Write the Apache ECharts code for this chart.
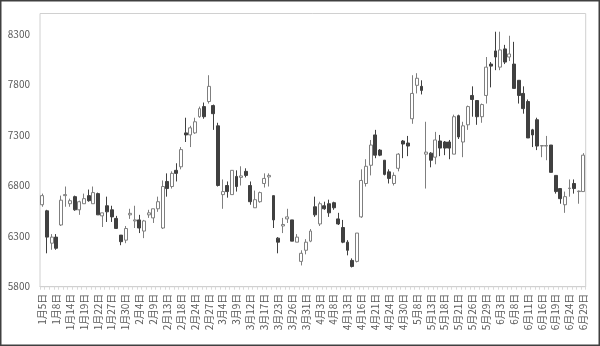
<!DOCTYPE html>
<html><head><meta charset="utf-8">
<script src="https://cdn.jsdelivr.net/npm/echarts@6/dist/echarts.min.js"></script>
<style>html,body{margin:0;padding:0;background:#fff}#c{width:600px;height:346px}</style>
</head><body><div id="c"></div>
<script>
const dates = ["1月5日","1月6日","1月7日","1月8日","1月9日","1月13日","1月14日","1月15日","1月16日","1月19日","1月20日","1月21日","1月22日","1月23日","1月26日","1月27日","1月28日","1月29日","1月30日",
"2月2日","2月3日","2月4日","2月5日","2月6日","2月9日","2月10日","2月12日","2月13日","2月16日","2月17日","2月18日","2月19日","2月23日","2月24日","2月25日","2月26日","2月27日",
"3月2日","3月3日","3月4日","3月5日","3月6日","3月9日","3月10日","3月11日","3月12日","3月13日","3月16日","3月17日","3月18日","3月19日","3月23日","3月24日","3月25日","3月26日","3月27日","3月30日","3月31日",
"4月1日","4月2日","4月3日","4月6日","4月7日","4月8日","4月9日","4月10日","4月13日","4月14日","4月15日","4月16日","4月17日","4月20日","4月21日","4月22日","4月23日","4月24日","4月27日","4月28日","4月30日",
"5月1日","5月7日","5月8日","5月11日","5月12日","5月13日","5月14日","5月15日","5月18日","5月19日","5月20日","5月21日","5月22日","5月25日","5月26日","5月27日","5月28日","5月29日",
"6月1日","6月2日","6月3日","6月4日","6月5日","6月8日","6月9日","6月10日","6月11日","6月12日","6月15日","6月16日","6月17日","6月18日","6月19日","6月22日","6月23日","6月24日","6月25日","6月26日","6月29日"];
const openV  = [6610,6550,6230,6290,6410,6700,6620,6690,6560,6620,6700,6620,6720,6500,6600,6560,6475,6310,6260,6510,6450,6460,6350,6510,6480,6570,6380,6840,6790,6950,6985,7320,7300,7320,7480,7580,7630,7590,7390,6710,6800,6710,6890,6880,6940,6800,6580,6640,6820,6885,6700,6280,6400,6470,6460,6240,6050,6160,6250,6590,6420,6600,6620,6630,6470,6385,6240,6060,6050,6490,6820,7000,7300,7150,7050,6935,6820,6970,7240,7220,7460,7790,7780,7110,7120,7080,7240,7230,7230,7110,7490,7230,7400,7690,7640,7480,7690,8000,8130,7970,8150,8070,8000,7840,7710,7630,7350,7450,7190,7190,7200,6900,6770,6610,6770,6820,6740,6740];
const closeV = [6700,6290,6290,6180,6655,6710,6650,6560,6640,6670,6650,6730,6510,6530,6540,6490,6376,6245,6375,6525,6460,6380,6450,6530,6570,6640,6790,6770,6920,6920,7155,7300,7370,7430,7560,7480,7780,7510,6800,6740,6740,6950,6790,6895,6900,6640,6660,6730,6870,6900,6460,6240,6415,6490,6250,6290,6130,6240,6350,6510,6620,6570,6530,6580,6420,6240,6160,6000,6330,6850,6990,7200,7100,7100,6910,6870,6900,7110,7210,7190,7710,7860,7740,7130,7050,7250,7170,7170,7170,7480,7280,7390,7580,7650,7480,7600,7970,7980,8070,8140,8020,8100,7760,7690,7560,7270,7300,7190,7195,7195,6930,6740,6670,6690,6775,6770,6745,7100];
const lowV   = [6590,6130,6165,6165,6400,6590,6590,6550,6510,6620,6640,6620,6510,6390,6440,6440,6370,6210,6230,6470,6380,6330,6280,6480,6430,6540,6370,6690,6770,6840,6960,7230,7180,7310,7470,7460,7610,7350,6790,6570,6680,6710,6740,6800,6880,6610,6580,6630,6780,6790,6380,6130,6330,6430,6250,6240,6010,6120,6240,6490,6400,6560,6490,6560,6410,6230,6110,5990,6040,6480,6790,6900,7070,7090,6900,6820,6800,6940,7070,7090,7410,7710,7700,6770,6980,7010,7090,7100,7060,7110,7260,7080,7350,7480,7400,7420,7610,7770,7940,7940,8000,8030,7760,7610,7510,7270,7180,7150,7080,7050,6930,6720,6620,6530,6690,6720,6620,6740];
const highV  = [6720,6560,6320,6320,6700,6790,6670,6700,6650,6720,6760,6790,6730,6530,6690,6600,6500,6310,6400,6570,6600,6510,6460,6560,6570,6690,6850,6920,6940,7020,7180,7470,7390,7470,7580,7620,7890,7600,7420,6860,6840,6950,6950,6990,6970,6840,6750,6740,6920,6920,6700,6290,6480,6570,6460,6320,6160,6270,6370,6690,6640,6640,6660,6640,6530,6460,6260,6080,6330,6960,7060,7250,7350,7160,7050,6960,6930,7120,7250,7290,7890,7910,7840,7430,7130,7330,7300,7240,7250,7500,7500,7430,7590,7780,7640,7610,8070,8020,8320,8320,8190,8280,8220,7840,7780,7650,7360,7470,7200,7290,7200,6900,6770,6740,6860,6860,6750,7120];
const yTicks = {min:5800, max:8500, step:500};

const data = dates.map((d,i)=>[openV[i], closeV[i], lowV[i], highV[i]]);
const chart = echarts.init(document.getElementById('c'), null, {renderer:'canvas'});
const FONT = '"Noto Sans CJK JP","Noto Sans",sans-serif';
chart.setOption({
  animation:false,
  backgroundColor:'#fff',
  graphic:[{type:'rect', shape:{x:0.75,y:0.75,width:598.5,height:344.5}, style:{fill:null, stroke:'#404040', lineWidth:1.5}, silent:true}],
  grid:{left:40, top:13.5, right:14.3, bottom:59.3, show:true, borderColor:'#d0d0d0', borderWidth:1, backgroundColor:'transparent'},
  xAxis:{type:'category', data:dates, boundaryGap:true,
    axisLine:{show:true, lineStyle:{color:'#d0d0d0'}},
    axisTick:{show:true, interval:0, length:3, lineStyle:{color:'#d9d9d9'}},
    axisLabel:{interval:2, rotate:90, fontSize:10, color:'#595959', fontFamily:FONT, margin:7},
    splitLine:{show:false}},
  yAxis:{type:'value', min:yTicks.min, max:yTicks.max, interval:yTicks.step, scale:true,
    axisLine:{show:false}, axisTick:{show:false}, splitLine:{show:false},
    axisLabel:{showMaxLabel:false, fontSize:10, color:'#595959', fontFamily:FONT, margin:10,
      formatter:(v)=>String(v)}},
  series:[{type:'candlestick', data:data, barWidth:3.4,
    itemStyle:{color:'#ffffff', color0:'#404040', borderColor:'#7f7f7f', borderColor0:'#404040', borderWidth:1}}]
});
</script></body></html>
